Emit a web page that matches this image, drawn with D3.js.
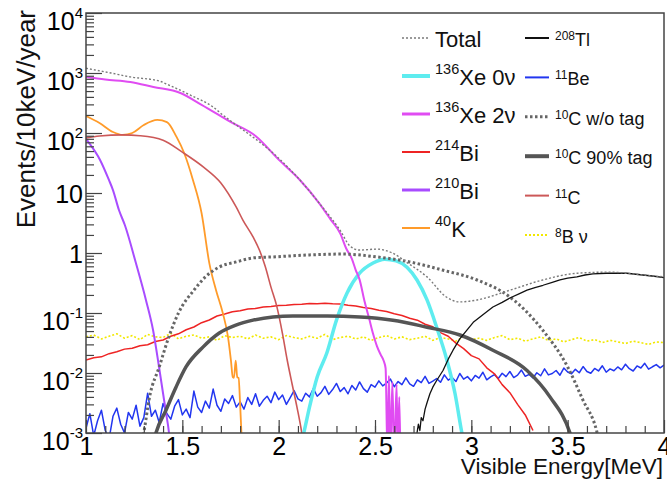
<!DOCTYPE html>
<html>
<head>
<meta charset="utf-8">
<script src="https://cdn.jsdelivr.net/npm/d3@7"></script>
<style>
  body { margin: 0; background: #fff; }
  svg { display: block; font-family: "Liberation Sans", Arial, Helvetica, sans-serif; }
</style>
</head>
<body>
<div class="chart_container"></div>
<script>
// ---- data: [energy MeV, events/10keV/year] ----
const total = [[1.00,1200],[1.13,1000],[1.23,860],[1.38,735],[1.43,630],[1.54,430],[1.66,270],[1.71,200],
  [1.75,160],[2.00,38],[2.11,16.5],[2.21,6.8],[2.32,2.36],[2.37,1.31],[2.42,1.12],[2.51,1.16],[2.59,1.0],
  [2.67,0.68],[2.77,0.40],[2.87,0.185],[2.94,0.153],[3.03,0.165],[3.20,0.24],[3.37,0.355],[3.55,0.46],
  [3.72,0.48],[3.89,0.43],[4.00,0.40]];

const xe0nu = [[2.10,0.0005],[2.13,0.001],[2.16,0.0027],[2.20,0.0086],[2.25,0.0215],[2.30,0.076],[2.355,0.215],
  [2.42,0.46],[2.49,0.68],[2.55,0.79],[2.61,0.74],[2.666,0.58],[2.718,0.355],[2.77,0.165],[2.82,0.058],
  [2.873,0.0165],[2.915,0.0046],[2.951,0.001],[2.97,0.0005]];

const xe2nu = [[1.00,860],[1.10,780],[1.23,710],[1.35,585],[1.49,465],[1.60,295],[1.75,153],[1.88,89],[2.00,36],
  [2.11,16.5],[2.21,6.8],[2.27,3.6],[2.32,2.1],[2.35,1.2],[2.38,0.8],[2.40,0.52],[2.42,0.36],[2.445,0.16],
  [2.47,0.08],[2.49,0.045],[2.51,0.028],[2.53,0.02],[2.545,0.016],[2.555,0.012],[2.565,0.0004],[2.572,0.009],
  [2.58,0.0004],[2.59,0.007],[2.60,0.0004],[2.612,0.0065],[2.618,0.0004],[2.626,0.004],[2.632,0.0004]];

const bi210 = [[1.00,80],[1.005,76],[1.073,35.5],[1.119,16.5],[1.14,11.2],[1.171,5.2],[1.202,2.9],[1.259,0.68],
  [1.311,0.165],[1.348,0.052],[1.379,0.0126],[1.415,0.0022],[1.431,0.001],[1.44,0.0005]];

const k40 = [[1.00,192],[1.07,147],[1.14,104],[1.19,93],[1.24,100],[1.30,136],[1.37,165],[1.42,152],[1.47,86],
  [1.51,46],[1.555,16.5],[1.60,4.6],[1.64,0.68],[1.675,0.24],[1.71,0.1],[1.737,0.04],[1.752,0.0165],
  [1.762,0.0085],[1.768,0.0083],[1.777,0.016],[1.785,0.0085],[1.792,0.0083],[1.80,0.003],[1.81,0.0006]];

const c11 = [[1.00,83],[1.07,89],[1.19,93],[1.28,90],[1.40,76],[1.50,48],[1.61,27],[1.70,14.7],[1.78,5.8],
  [1.815,3.5],[1.867,1.85],[1.90,1.12],[1.93,0.6],[1.96,0.27],[1.99,0.13],[2.02,0.045],[2.045,0.016],
  [2.07,0.0065],[2.095,0.0027],[2.12,0.001],[2.13,0.0006]];

const c10NoTag = [[1.27,0.0003],[1.30,0.001],[1.33,0.004],[1.38,0.0126],[1.43,0.04],[1.48,0.1],[1.56,0.24],
  [1.62,0.4],[1.69,0.58],[1.78,0.71],[1.87,0.83],[1.97,0.86],[2.16,0.93],[2.33,0.96],[2.51,0.86],[2.68,0.71],
  [2.85,0.52],[3.03,0.355],[3.20,0.185],[3.37,0.052],[3.50,0.0126],[3.58,0.0035],[3.65,0.0011],[3.68,0.0004]];

const c10Tag = [[1.34,0.0005],[1.363,0.001],[1.415,0.0024],[1.467,0.0058],[1.519,0.0126],[1.607,0.027],
  [1.69,0.046],[1.778,0.063],[1.867,0.076],[1.97,0.086],[2.074,0.089],[2.251,0.089],[2.422,0.086],
  [2.593,0.076],[2.77,0.058],[2.941,0.043],[3.112,0.024],[3.289,0.011],[3.408,0.004],[3.512,0.001],[3.54,0.0005]];

const tl208 = [[2.70,0.0005],[2.718,0.001],[2.725,0.0014],[2.733,0.0011],[2.74,0.0018],[2.749,0.0016],
  [2.76,0.0025],[2.77,0.0032],[2.785,0.0045],[2.80,0.0058],[2.82,0.0075],[2.853,0.011],[2.88,0.017],
  [2.905,0.024],[2.94,0.037],[2.977,0.052],[3.01,0.07],[3.045,0.086],[3.08,0.105],[3.112,0.126],[3.16,0.15],
  [3.20,0.178],[3.25,0.21],[3.289,0.24],[3.33,0.265],[3.372,0.29],[3.42,0.325],[3.46,0.355],[3.50,0.38],
  [3.548,0.40],[3.59,0.43],[3.631,0.45],[3.70,0.46],[3.807,0.46],[3.89,0.43],[3.95,0.41],[4.00,0.39]];

// binned (noisy) spectra, energies 1.00 .. 4.00
const be11Step = 0.02;
const be11 = [.0012,.0021,.0009,.0016,.0024,.0011,.0008,.0019,.0026,.0014,.0010,.0022,.0017,.0029,.0013,.0018,
  .0046,.0019,.0024,.0015,.0031,.0021,.0017,.0028,.0036,.0020,.0025,.0018,.0050,.0027,.0022,
  .0034,.0026,.0054,.0029,.0023,.0037,.0031,.0042,.0027,.0033,.0025,.0039,.0030,.0045,.0028,
  .0035,.0041,.0032,.0048,.0036,.0043,.0030,.0039,.0051,.0037,.0034,.0046,.0040,.0055,.0041,
  .0047,.0060,.0044,.0053,.0067,.0049,.0057,.0045,.0062,.0052,.0071,.0055,.0048,.0064,.0058,
  .0074,.0061,.0068,.0079,.0059,.0072,.0064,.0083,.0066,.0060,.0077,.0069,.0088,.0067,.0073,
  .0081,.0070,.0093,.0076,.0084,.0072,.0098,.0079,.0087,.0074,.0091,.0082,.0103,.0077,.0086,
  .0094,.0081,.0099,.0087,.0106,.0084,.0092,.0112,.0088,.0095,.0083,.0101,.0090,.0117,.0093,
  .0098,.0110,.0092,.0121,.0104,.0097,.0115,.0101,.0128,.0106,.0099,.0119,.0108,.0132,.0103,
  .0117,.0109,.0126,.0113,.0140,.0118,.0108,.0131,.0121,.0145,.0116,.0127,.0138,.0122,.0136];

const b8Step = 0.04;
const b8nu = [.040,.043,.037,.041,.045,.038,.042,.036,.044,.040,.039,.046,.037,.041,.043,.038,.040,.035,.042,.039,
  .041,.037,.043,.038,.040,.036,.042,.039,.037,.041,.038,.044,.036,.039,.041,.037,.040,.035,.039,.042,
  .037,.040,.036,.038,.041,.035,.039,.037,.034,.040,.036,.038,.035,.039,.042,.036,.038,.034,.037,.040,
  .035,.037,.033,.036,.039,.034,.036,.032,.035,.033,.031,.034,.032,.030,.033,.032];

const bi214Step = 0.04;
const bi214 = [.0165,.0180,.0186,.0210,.0226,.0250,.0258,.0285,.0296,.0335,.0355,.0410,.0450,.0525,.0585,.0690,
  .0765,.0890,.0960,.1050,.1090,.1170,.1190,.1260,.1280,.1330,.1350,.1390,.1400,.1440,.1430,.1460,.1420,.1410,
  .1350,.1310,.1230,.1190,.1110,.1060,.0970,.0910,.0820,.0760,.0650,.0590,.0470,.0410,.0315,.0255,.0195,.0172,
  .0122,.0097,.0064,.0047,.0030,.0020,.0011];

const xTicks = [1, 1.5, 2, 2.5, 3, 3.5, 4];
const xTickLabels = ["1", "1.5", "2", "2.5", "3", "3.5", "4"];
const yTicks = [1e-3, 1e-2, 1e-1, 1, 10, 1e2, 1e3, 1e4];
const yTickBase = ["10", "10", "10", "1", "10", "10", "10", "10"];
const yTickSup = ["-3", "-2", "-1", "", "", "2", "3", "4"];

// ---- layout ----
const W = 667, H = 482;
const x0 = 86, x1 = 664, y0 = 13, y1 = 433;

const xScale = d3.scaleLinear().domain([1, 4]).range([x0, x1]);
const yScale = d3.scaleLog().domain([1e-3, 1e4]).range([y1, y0]);

const grid = (vals, step) => vals.map((v, i) => [1 + i * step, v]);

const series = {
  total:  { data: total, color: "#7a7a7a", width: 1.4, dash: "2,2", curve: d3.curveMonotoneX },
  xe0nu:  { data: xe0nu, color: "#5eecef", width: 3.5, curve: d3.curveMonotoneX },
  xe2nu:  { data: xe2nu, color: "#e04cf2", width: 2, curve: d3.curveMonotoneX },
  bi214:  { data: grid(bi214, bi214Step), color: "#ee2424", width: 1.5, curve: d3.curveLinear },
  bi210:  { data: bi210, color: "#a84cff", width: 2, curve: d3.curveMonotoneX },
  k40:    { data: k40, color: "#ff9b2a", width: 1.8, curve: d3.curveMonotoneX },
  tl208:  { data: tl208, color: "#111111", width: 1.3, curve: d3.curveLinear },
  be11:   { data: grid(be11, be11Step), color: "#2236f0", width: 1.5, curve: d3.curveLinear },
  c10NoTag: { data: c10NoTag, color: "#666666", width: 3, dash: "2.5,2.5", curve: d3.curveMonotoneX },
  c10Tag: { data: c10Tag, color: "#555555", width: 3.5, curve: d3.curveMonotoneX },
  c11:    { data: c11, color: "#cc5858", width: 1.6, curve: d3.curveMonotoneX },
  b8nu:   { data: grid(b8nu, b8Step), color: "#f2e800", width: 1.6, dash: "2,2", curve: d3.curveLinear },
};

const drawOrder = ["be11", "b8nu", "bi214", "bi210", "k40", "c11", "xe0nu", "xe2nu", "c10Tag", "c10NoTag", "tl208", "total"];

const legendCol1 = [
  { key: "total", sup: "", text: "Total", lw: 1.4 },
  { key: "xe0nu", sup: "136", text: "Xe 0\u03bd", lw: 4 },
  { key: "xe2nu", sup: "136", text: "Xe 2\u03bd", lw: 3 },
  { key: "bi214", sup: "214", text: "Bi", lw: 2 },
  { key: "bi210", sup: "210", text: "Bi", lw: 3 },
  { key: "k40", sup: "40", text: "K", lw: 2 },
];
const legendCol2 = [
  { key: "tl208", sup: "208", text: "Tl", lw: 2 },
  { key: "be11", sup: "11", text: "Be", lw: 2 },
  { key: "c10NoTag", sup: "10", text: "C w/o tag", lw: 3 },
  { key: "c10Tag", sup: "10", text: "C 90% tag", lw: 4 },
  { key: "c11", sup: "11", text: "C", lw: 2 },
  { key: "b8nu", sup: "8", text: "B \u03bd", lw: 2 },
];

function drawChart() {
  const container = document.querySelector('div.chart_container');
  container.innerHTML = `<svg id="svgCont" width=${W} height=${H}></svg>`;
  const svg = d3.select(container).select('#svgCont');

  svg.append('defs').append('clipPath').attr('id', 'plotClip')
    .append('rect').attr('x', x0).attr('y', y0).attr('width', x1 - x0).attr('height', y1 - y0);

  const plot = svg.append('g').attr('clip-path', 'url(#plotClip)');

  drawOrder.forEach(k => {
    const s = series[k];
    const line = d3.line()
      .x(d => xScale(d[0]))
      .y(d => yScale(d[1]))
      .curve(s.curve);
    plot.append('path')
      .attr('d', line(s.data))
      .attr('fill', 'none')
      .attr('stroke', s.color)
      .attr('stroke-width', s.width)
      .attr('stroke-dasharray', s.dash || null)
      .attr('stroke-linejoin', 'round');
  });

  // axes (ticks point into the frame)
  const axisColor = "#444";
  const xMinor = d3.range(11, 40).map(v => v / 10);
  svg.append('g').attr('transform', `translate(0,${y1})`)
    .call(d3.axisBottom(xScale).tickValues(xMinor).tickSize(-7).tickFormat(''))
    .call(g => g.select('.domain').remove());
  svg.append('g').attr('transform', `translate(0,${y1})`)
    .call(d3.axisBottom(xScale).tickValues(xTicks).tickSize(-13).tickPadding(4)
      .tickFormat((d, i) => xTickLabels[i]))
    .call(g => g.select('.domain').remove())
    .call(g => g.selectAll('text').attr('font-size', 25).attr('fill', '#000')
      .attr('font-family', '"Liberation Sans", Arial, sans-serif'));

  const yMinor = yScale.ticks().filter(v => !yTicks.some(t => Math.abs(t - v) / t < 1e-6));
  svg.append('g').attr('transform', `translate(${x0},0)`)
    .call(d3.axisLeft(yScale).tickValues(yMinor).tickSize(-8).tickFormat(''))
    .call(g => g.select('.domain').remove());
  svg.append('g').attr('transform', `translate(${x0},0)`)
    .call(d3.axisLeft(yScale).tickValues(yTicks).tickSize(-16).tickFormat(''))
    .call(g => g.select('.domain').remove());
  svg.selectAll('.tick line').attr('stroke', axisColor).attr('stroke-width', 1.2);

  // y tick labels with superscripts
  yTicks.forEach((t, i) => {
    const hasSup = yTickSup[i] !== "";
    const txt = svg.append('text')
      .attr('x', 83)
      .attr('y', yScale(t) + (hasSup ? 17 : 10))
      .attr('text-anchor', 'end')
      .attr('font-size', 25)
      .attr('fill', '#000');
    txt.append('tspan').text(yTickBase[i]);
    if (hasSup) {
      txt.append('tspan').attr('font-size', 15).attr('dy', -12).text(yTickSup[i]);
    }
  });

  // frame
  svg.append('rect')
    .attr('x', x0).attr('y', y0).attr('width', x1 - x0).attr('height', y1 - y0)
    .attr('fill', 'none').attr('stroke', axisColor).attr('stroke-width', 1.5);

  // axis titles
  svg.append('text')
    .attr('x', 663).attr('y', 474)
    .attr('text-anchor', 'end')
    .attr('font-size', 22.5)
    .attr('fill', '#111')
    .text('Visible Energy[MeV]');
  svg.append('text')
    .attr('transform', 'translate(35,10) rotate(-90)')
    .attr('text-anchor', 'end')
    .attr('font-size', 26)
    .attr('fill', '#111')
    .text('Events/10keV/year');

  // legend
  const drawLegend = (items, cfg) => {
    items.forEach((it, i) => {
      const s = series[it.key];
      const y = cfg.y0 + i * cfg.dy;
      svg.append('line')
        .attr('x1', cfg.lx0).attr('x2', cfg.lx1).attr('y1', y).attr('y2', y)
        .attr('stroke', s.color).attr('stroke-width', it.lw)
        .attr('stroke-dasharray', s.dash || null);
      const txt = svg.append('text')
        .attr('x', cfg.tx).attr('y', y + cfg.base)
        .attr('font-size', cfg.fs).attr('fill', '#111');
      if (it.sup) {
        txt.append('tspan').attr('font-size', cfg.sfs).attr('dy', -cfg.raise).text(it.sup);
        txt.append('tspan').attr('dy', cfg.raise).text(it.text);
      } else {
        txt.append('tspan').text(it.text);
      }
    });
  };
  drawLegend(legendCol1, { y0: 38, dy: 38, lx0: 402, lx1: 430, tx: 435, base: 9, fs: 22, sfs: 14.5, raise: 11 });
  drawLegend(legendCol2, { y0: 38, dy: 39.4, lx0: 525, lx1: 549, tx: 555, base: 8, fs: 18, sfs: 12, raise: 6 });
}

drawChart();
</script>
</body>
</html>
